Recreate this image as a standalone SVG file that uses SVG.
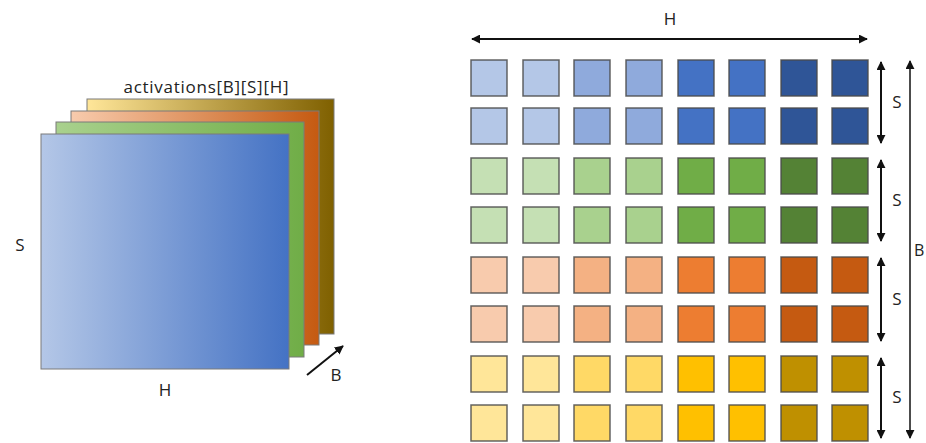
<svg xmlns="http://www.w3.org/2000/svg" width="926" height="443" viewBox="0 0 926 443">
<style>
text{font-family:"Open Sans","Liberation Sans",sans-serif;fill:#222;}
.lbl{font-size:17px;text-anchor:middle;}
.sq{stroke:#4a4a4a;stroke-opacity:0.85;stroke-width:1.5;}
.b1{fill:#B4C7E7}.b2{fill:#8FAADC}.b3{fill:#4472C4}.b4{fill:#2F5597}
.g1{fill:#C5E0B4}.g2{fill:#A9D18E}.g3{fill:#70AD47}.g4{fill:#548235}
.o1{fill:#F8CBAD}.o2{fill:#F4B183}.o3{fill:#ED7D31}.o4{fill:#C55A11}
.y1{fill:#FFE699}.y2{fill:#FFD966}.y3{fill:#FFC000}.y4{fill:#BF9000}
.arr{stroke:#111;fill:none;}
.sheet{stroke:#7a7a7a;stroke-width:1;}
</style>
<defs>
<linearGradient id="gBlue" x1="0" x2="1" y1="0" y2="0"><stop offset="0" stop-color="#B4C7E7"/><stop offset="1" stop-color="#4472C4"/></linearGradient>
<linearGradient id="gGreen" x1="0" x2="1" y1="0" y2="0"><stop offset="0" stop-color="#A9D18E"/><stop offset="1" stop-color="#70AD47"/></linearGradient>
<linearGradient id="gOrange" x1="0" x2="1" y1="0" y2="0"><stop offset="0" stop-color="#F8CBAD"/><stop offset="1" stop-color="#C55A11"/></linearGradient>
<linearGradient id="gYellow" x1="0" x2="1" y1="0" y2="0"><stop offset="0" stop-color="#FFE699"/><stop offset="1" stop-color="#7F6000"/></linearGradient>
<marker id="ah" viewBox="0 0 10 10" refX="9" refY="5" markerWidth="9" markerHeight="9" markerUnits="userSpaceOnUse" orient="auto-start-reverse"><path d="M0,0 L10,5 L0,10 Z" fill="#111"/></marker>
</defs>

<g id="tensor3d">
  <rect class="sheet" x="87" y="99" width="247" height="235" fill="url(#gYellow)"/>
  <rect class="sheet" x="71" y="111" width="248" height="234" fill="url(#gOrange)"/>
  <rect class="sheet" x="56" y="122" width="248" height="235" fill="url(#gGreen)"/>
  <rect class="sheet" x="41" y="134" width="248" height="235" fill="url(#gBlue)"/>
  <text x="206" y="93" style="font-size:17px" text-anchor="middle" textLength="165" lengthAdjust="spacing">activations[B][S][H]</text>
  <text class="lbl" x="20" y="251">S</text>
  <text class="lbl" x="165" y="396">H</text>
  <text class="lbl" x="336" y="381">B</text>
</g>

<g id="grid">
  <g id="row1"><rect class="sq b1" x="471" y="60" width="36" height="36"/><rect class="sq b1" x="523" y="60" width="36" height="36"/><rect class="sq b2" x="574" y="60" width="36" height="36"/><rect class="sq b2" x="626" y="60" width="36" height="36"/><rect class="sq b3" x="678" y="60" width="36" height="36"/><rect class="sq b3" x="729" y="60" width="36" height="36"/><rect class="sq b4" x="781" y="60" width="36" height="36"/><rect class="sq b4" x="832" y="60" width="36" height="36"/></g>
  <g id="row2"><rect class="sq b1" x="471" y="108" width="36" height="36"/><rect class="sq b1" x="523" y="108" width="36" height="36"/><rect class="sq b2" x="574" y="108" width="36" height="36"/><rect class="sq b2" x="626" y="108" width="36" height="36"/><rect class="sq b3" x="678" y="108" width="36" height="36"/><rect class="sq b3" x="729" y="108" width="36" height="36"/><rect class="sq b4" x="781" y="108" width="36" height="36"/><rect class="sq b4" x="832" y="108" width="36" height="36"/></g>
  <g id="row3"><rect class="sq g1" x="471" y="158" width="36" height="36"/><rect class="sq g1" x="523" y="158" width="36" height="36"/><rect class="sq g2" x="574" y="158" width="36" height="36"/><rect class="sq g2" x="626" y="158" width="36" height="36"/><rect class="sq g3" x="678" y="158" width="36" height="36"/><rect class="sq g3" x="729" y="158" width="36" height="36"/><rect class="sq g4" x="781" y="158" width="36" height="36"/><rect class="sq g4" x="832" y="158" width="36" height="36"/></g>
  <g id="row4"><rect class="sq g1" x="471" y="207" width="36" height="36"/><rect class="sq g1" x="523" y="207" width="36" height="36"/><rect class="sq g2" x="574" y="207" width="36" height="36"/><rect class="sq g2" x="626" y="207" width="36" height="36"/><rect class="sq g3" x="678" y="207" width="36" height="36"/><rect class="sq g3" x="729" y="207" width="36" height="36"/><rect class="sq g4" x="781" y="207" width="36" height="36"/><rect class="sq g4" x="832" y="207" width="36" height="36"/></g>
  <g id="row5"><rect class="sq o1" x="471" y="257" width="36" height="36"/><rect class="sq o1" x="523" y="257" width="36" height="36"/><rect class="sq o2" x="574" y="257" width="36" height="36"/><rect class="sq o2" x="626" y="257" width="36" height="36"/><rect class="sq o3" x="678" y="257" width="36" height="36"/><rect class="sq o3" x="729" y="257" width="36" height="36"/><rect class="sq o4" x="781" y="257" width="36" height="36"/><rect class="sq o4" x="832" y="257" width="36" height="36"/></g>
  <g id="row6"><rect class="sq o1" x="471" y="306" width="36" height="36"/><rect class="sq o1" x="523" y="306" width="36" height="36"/><rect class="sq o2" x="574" y="306" width="36" height="36"/><rect class="sq o2" x="626" y="306" width="36" height="36"/><rect class="sq o3" x="678" y="306" width="36" height="36"/><rect class="sq o3" x="729" y="306" width="36" height="36"/><rect class="sq o4" x="781" y="306" width="36" height="36"/><rect class="sq o4" x="832" y="306" width="36" height="36"/></g>
  <g id="row7"><rect class="sq y1" x="471" y="356" width="36" height="36"/><rect class="sq y1" x="523" y="356" width="36" height="36"/><rect class="sq y2" x="574" y="356" width="36" height="36"/><rect class="sq y2" x="626" y="356" width="36" height="36"/><rect class="sq y3" x="678" y="356" width="36" height="36"/><rect class="sq y3" x="729" y="356" width="36" height="36"/><rect class="sq y4" x="781" y="356" width="36" height="36"/><rect class="sq y4" x="832" y="356" width="36" height="36"/></g>
  <g id="row8"><rect class="sq y1" x="471" y="405" width="36" height="36"/><rect class="sq y1" x="523" y="405" width="36" height="36"/><rect class="sq y2" x="574" y="405" width="36" height="36"/><rect class="sq y2" x="626" y="405" width="36" height="36"/><rect class="sq y3" x="678" y="405" width="36" height="36"/><rect class="sq y3" x="729" y="405" width="36" height="36"/><rect class="sq y4" x="781" y="405" width="36" height="36"/><rect class="sq y4" x="832" y="405" width="36" height="36"/></g>
</g>

<g id="labels">
  <text class="lbl" x="670" y="25">H</text>
  <text class="lbl" x="897" y="108">S</text>
  <text class="lbl" x="897" y="206">S</text>
  <text class="lbl" x="897" y="305">S</text>
  <text class="lbl" x="897" y="403">S</text>
  <text x="914" y="256" style="font-size:16px">B</text>
</g>

<g id="connectors">
  <line class="arr" x1="307" y1="375" x2="343" y2="346" stroke-width="2" marker-end="url(#ah)"/>
  <line class="arr" x1="472" y1="39" x2="867" y2="39" stroke-width="2" marker-start="url(#ah)" marker-end="url(#ah)"/>
  <line class="arr" x1="881" y1="62" x2="881" y2="143" stroke-width="2" marker-start="url(#ah)" marker-end="url(#ah)"/>
  <line class="arr" x1="881" y1="160" x2="881" y2="241" stroke-width="2" marker-start="url(#ah)" marker-end="url(#ah)"/>
  <line class="arr" x1="881" y1="258" x2="881" y2="341" stroke-width="2" marker-start="url(#ah)" marker-end="url(#ah)"/>
  <line class="arr" x1="881" y1="358" x2="881" y2="438" stroke-width="2" marker-start="url(#ah)" marker-end="url(#ah)"/>
  <line class="arr" x1="910" y1="61" x2="910" y2="438" stroke-width="1.5" marker-start="url(#ah)" marker-end="url(#ah)"/>
</g>
</svg>
